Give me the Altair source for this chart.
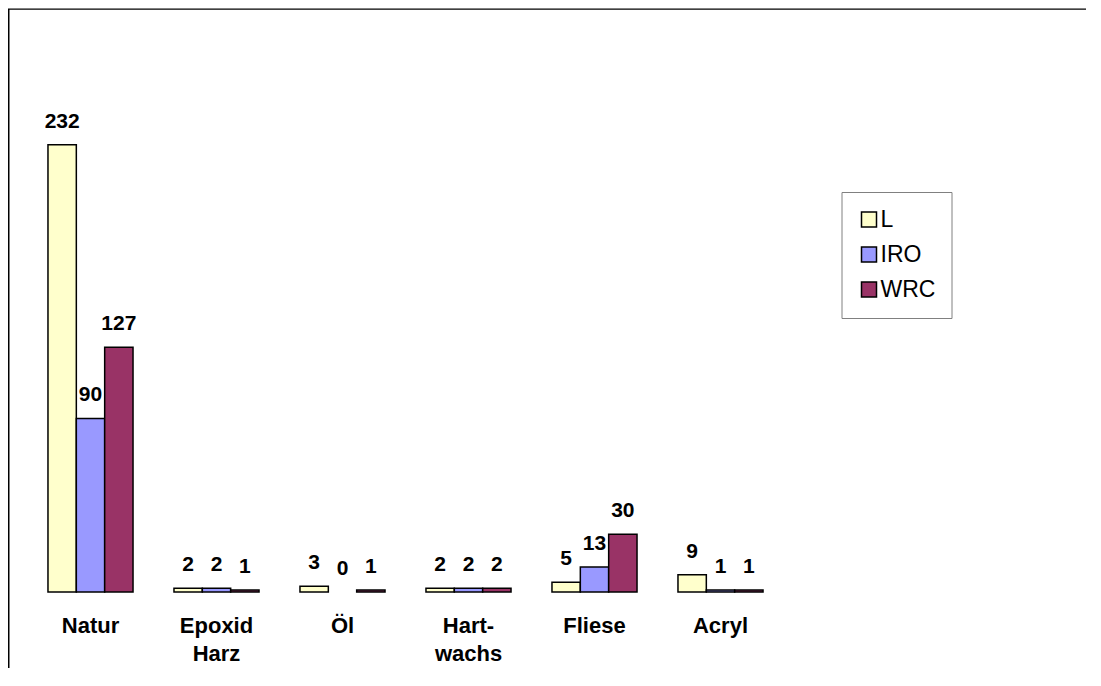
import altair as alt
import pandas as pd

categories = ["Natur", "Epoxid\nHarz", "Öl", "Hart-\nwachs", "Fliese", "Acryl"]
series = ["L", "IRO", "WRC"]
values_L = [232, 2, 3, 2, 5, 9]
values_IRO = [90, 2, 0, 2, 13, 1]
values_WRC = [127, 1, 1, 2, 30, 1]
colors = ["#FFFFCC", "#9999FF", "#993366"]

rows = []
for s, vals in zip(series, [values_L, values_IRO, values_WRC]):
    for c, v in zip(categories, vals):
        rows.append({"cat": c, "series": s, "value": v})
df = pd.DataFrame(rows)

FONT = "Liberation Sans"

x_enc = alt.X("cat:N", sort=categories,
              scale=alt.Scale(paddingInner=0.325, paddingOuter=0.1625),
              axis=alt.Axis(title=None, labelAngle=0, domain=False, ticks=False, grid=False,
                            labelFont=FONT, labelFontSize=22, labelFontWeight="bold",
                            labelColor="black", labelPadding=23, labelLineHeight=28,
                            labelExpr="split(datum.label, '\\n')"))
xo_enc = alt.XOffset("series:N", sort=series, scale=alt.Scale(paddingInner=0, paddingOuter=0))
y_enc = alt.Y("value:Q", scale=alt.Scale(domain=[0, 250], nice=False, zero=True), axis=None)

base = alt.Chart(df)

bars = base.transform_filter("datum.value > 0").mark_bar(
    stroke="black", strokeWidth=1.5
).encode(
    x=x_enc, xOffset=xo_enc, y=y_enc,
    color=alt.Color("series:N", sort=series,
                    scale=alt.Scale(domain=series, range=colors),
                    legend=alt.Legend(title=None, orient="none", legendX=814, legendY=82,
                                      symbolType="square", symbolSize=225,
                                      symbolStrokeColor="black", symbolStrokeWidth=1.5,
                                      labelFont=FONT, labelFontSize=23, labelColor="black",
                                      labelOffset=0, rowPadding=11, padding=16,
                                      strokeColor="#808080"))
)

labels = base.mark_text(
    font=FONT, fontSize=21, fontWeight="bold", color="black",
    baseline="alphabetic", dy=-17
).encode(x=x_enc, xOffset=xo_enc, y=y_enc, text=alt.Text("value:Q"))

frame_data = alt.Data(values=[{"k": 1}])
top_line = alt.Chart(frame_data).mark_rule(color="black", strokeWidth=1.2).encode(
    x=alt.value(-19.5), x2=alt.value(1060.5), y=alt.value(-100.8))
left_line = alt.Chart(frame_data).mark_rule(color="black", strokeWidth=1.5).encode(
    x=alt.value(-18.75), y=alt.value(-101), y2=alt.value(560))

chart = alt.layer(bars, labels, top_line, left_line).properties(
    width=756, height=482,
    autosize=alt.AutoSizeParams(type="none"),
    padding={"left": 19.5, "top": 102, "right": 302.5, "bottom": 76},
    background="white"
).configure_view(stroke=None)

chart.save("out.html", embed_options={"renderer": "svg", "actions": False})
